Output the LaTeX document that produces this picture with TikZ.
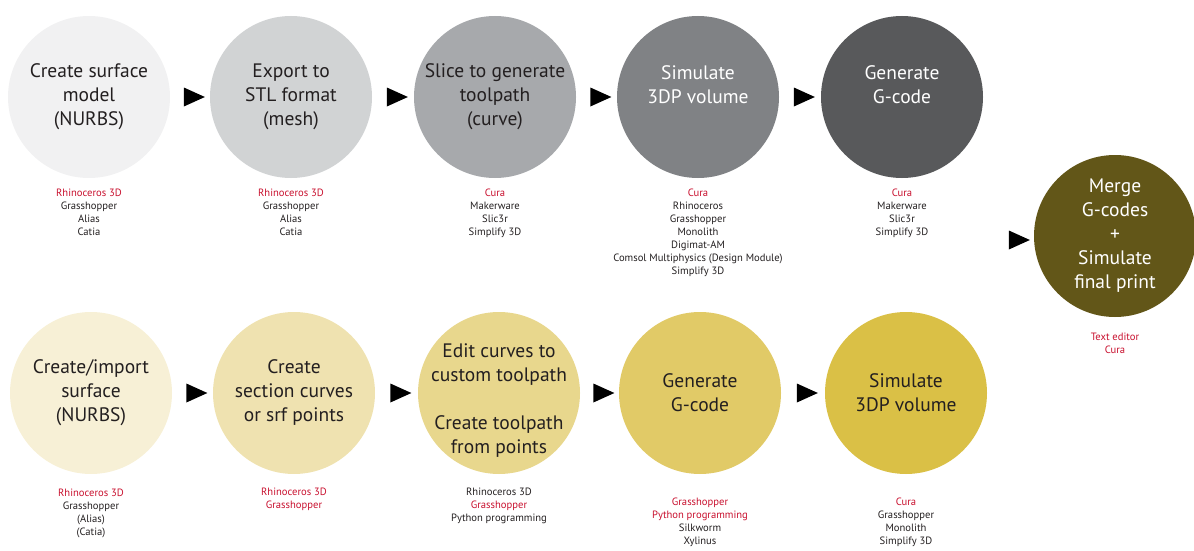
\documentclass[tikz,border=0pt]{standalone}
\usepackage{fontspec}
\setmainfont{PT Sans}
\usepackage{tikz}
\usetikzlibrary{shapes,arrows,positioning}
\definecolor{inkdark}{HTML}{231F20}
\definecolor{toolred}{HTML}{C8102E}
\definecolor{meshA}{HTML}{F1F1F2}
\definecolor{meshB}{HTML}{D1D3D4}
\definecolor{meshC}{HTML}{A7A9AC}
\definecolor{meshD}{HTML}{808285}
\definecolor{meshE}{HTML}{58595B}
\definecolor{curveA}{HTML}{F7F0D6}
\definecolor{curveB}{HTML}{EFE2B0}
\definecolor{curveC}{HTML}{E8D78D}
\definecolor{curveD}{HTML}{E1CA67}
\definecolor{curveE}{HTML}{DAC046}
\definecolor{mergeol}{HTML}{625618}
\tikzset{
	words/.style    = {align = center, inner sep = 0pt, text = inkdark,
		font = \fontsize{19.5}{24}\selectfont},
	stage/.style    = {words, circle, minimum size = 162pt},
	tools/.style    = {align = center, inner sep = 0pt, text = inkdark,
		font = \fontsize{10.6}{13}\selectfont},
	next/.style     = {isosceles triangle, isosceles triangle stretches,
		fill = black, inner sep = 0pt, minimum width = 19pt, minimum height = 21pt}
}
\newcommand{\keytool}[1]{\textcolor{toolred}{#1}}

\begin{document}
\begin{tikzpicture}[x = 1pt, y = -1pt]
		\useasboundingbox (0,0) rectangle (1194,551);
		\draw
		% Drawing the stages of the mesh route
		node at (89,97)[stage, fill = meshA] (c1) {Create surface\\model\\(NURBS)}
		node at (291,97)[stage, fill = meshB] (c2) {Export to\\STL format\\(mesh)}
		node at (495,97)[stage, fill = meshC] (c3) {Slice to generate\\toolpath\\(curve)}
		node at (698,97)[stage, fill = meshD, text = white] (c4) {Simulate\\3DP volume\\\mbox{}}
		node at (902,97)[stage, fill = meshE, text = white] (c5) {Generate\\G-code\\\mbox{}};
		
		\draw
		% Drawing the stages of the curve route
		node at (91,393)[stage, fill = curveA] (d1) {Create/import\\surface\\(NURBS)}
		node at (294,393)[stage, fill = curveB] (d2) {Create\\section curves\\or srf points}
		node at (499,393)[stage, fill = curveC] (d3) {}
		node at (499,401)[words] (d3t) {Edit curves to\\custom toolpath\\[24pt]Create toolpath\\from points}
		node at (700,393)[stage, fill = curveD] (d4) {Generate\\G-code}
		node at (906,393)[stage, fill = curveE] (d5) {Simulate\\3DP volume};
		
		\draw
		node at (1115,236)[stage, fill = mergeol, text = white] (m) {Merge\\G-codes\\+\\Simulate\\final print}
		node at (1015,240)[next] (nm) {};
		
		% software under each stage
		\draw
		node[tools, below = 11pt of c1] (l1) {\keytool{Rhinoceros 3D}\\Grasshopper\\Alias\\Catia}
		node[tools, below = 11pt of c2] (l2) {\keytool{Rhinoceros 3D}\\Grasshopper\\Alias\\Catia}
		node[tools, below = 11pt of c3] (l3) {\keytool{Cura}\\Makerware\\Slic3r\\Simplify 3D}
		node[tools, below = 11pt of c4] (l4) {\keytool{Cura}\\Rhinoceros\\Grasshopper\\Monolith\\Digimat-AM\\Comsol Multiphysics (Design Module)\\Simplify 3D}
		node[tools, below = 11pt of c5] (l5) {\keytool{Cura}\\Makerware\\Slic3r\\Simplify 3D}
		node[tools, below = 15pt of d1] (k1) {\keytool{Rhinoceros 3D}\\Grasshopper\\(Alias)\\(Catia)}
		node[tools, below = 14pt of d2] (k2) {\keytool{Rhinoceros 3D}\\\keytool{Grasshopper}}
		node[tools, below = 14pt of d3] (k3) {Rhinoceros 3D\\\keytool{Grasshopper}\\Python programming}
		node[tools, below = 24pt of d4] (k4) {\keytool{Grasshopper}\\\keytool{Python programming}\\Silkworm\\Xylinus}
		node[tools, below = 24pt of d5] (k5) {\keytool{Cura}\\Grasshopper\\Monolith\\Simplify 3D}
		node[tools, below = 16pt of m] (km) {\keytool{Text editor}\\\keytool{Cura}};
		
		% arrowheads between the stages
		\path (c1) -- (c2) node[next, midway] (n12) {};
		\path (c2) -- (c3) node[next, midway] (n23) {};
		\path (c3) -- (c4) node[next, midway] (n34) {};
		\path (c4) -- (c5) node[next, midway] (n45) {};
		\path (d1) -- (d2) node[next, midway] (p12) {};
		\path (d2) -- (d3) node[next, midway] (p23) {};
		\path (d3) -- (d4) node[next, midway] (p34) {};
		\path (d4) -- (d5) node[next, midway] (p45) {};
		
\end{tikzpicture}
\end{document}
